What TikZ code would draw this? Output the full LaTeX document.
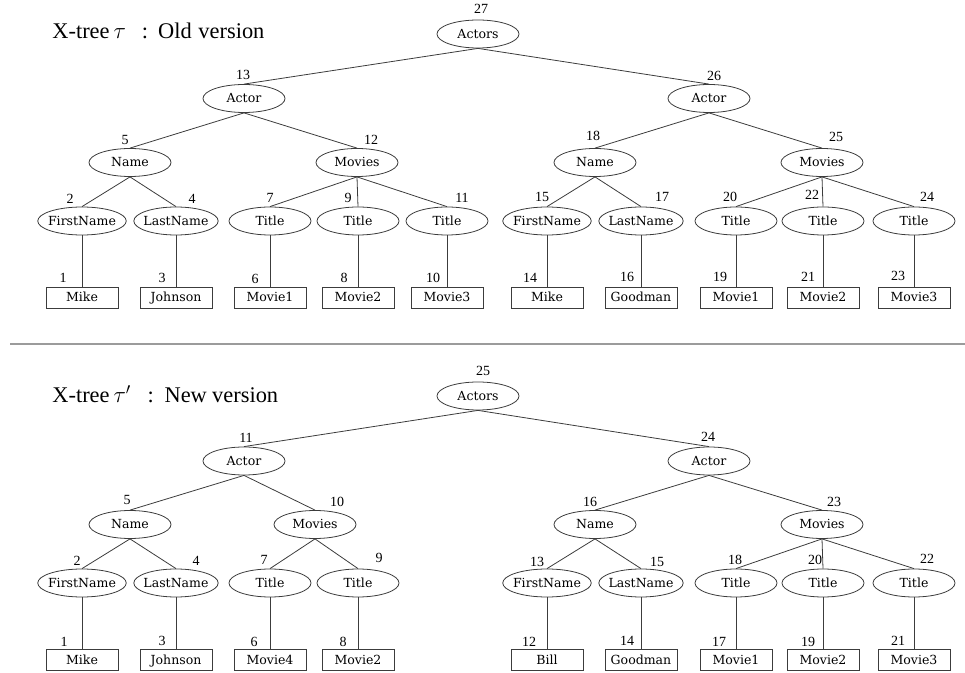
\documentclass[tikz,border=0pt]{standalone}
\usepackage{fontspec}
\setmainfont{Liberation Serif}
\newfontfamily\nodefont{DejaVu Serif}
\usetikzlibrary{shapes.geometric}

\tikzset{every picture/.style={line width=0.6pt}}
\tikzset{
  elli/.style={draw={rgb, 255:red, 60; green, 60; blue, 60}, ellipse, minimum width=61.5pt, minimum height=21pt, inner xsep=-2pt, inner ysep=0pt, text height=6.5pt, text depth=0pt, font=\nodefont\fontsize{9.4}{11}\selectfont},
  leaf/.style={draw={rgb, 255:red, 60; green, 60; blue, 60}, rectangle, minimum width=54pt, minimum height=15.75pt, inner sep=0pt, text height=6.5pt, text depth=0pt, font=\nodefont\fontsize{9.4}{11}\selectfont},
  num/.style={inner sep=0pt, font=\fontsize{10.5}{12}\selectfont},
  conn/.style={draw={rgb, 255:red, 60; green, 60; blue, 60}},
  heading/.style={anchor=west, inner sep=0pt, font=\fontsize{16.8}{20}\selectfont}
}

\begin{document}
\begin{tikzpicture}[x=0.75pt,y=0.75pt,yscale=-1,xscale=1]
	\useasboundingbox (0,0) rectangle (965,673);

	% Heading
	\node [heading] (hold) at (52,31) {X-tree\hspace{3pt}$\tau$\hspace{12pt}:\hspace{7.5pt}Old\hspace{5pt}version};
	\node [heading] (hnew) at (52,394) {X-tree\hspace{3pt}$\tau^{\prime}$\hspace{12.5pt}:\hspace{8pt}New\hspace{4pt}version};

	% Separator
	\draw [color={rgb, 255:red, 155; green, 155; blue, 155 }, line width=1.5pt] (10,344) -- (965,344) ;

	%%%%%%%% Old version
	%Shape: Ellipse
	\node [elli] (o27) at (478,34) {Actors};
	\node [elli] (o13) at (244,98.5) {Actor};
	\node [elli] (o26) at (709,98.5) {Actor};
	\node [elli] (o5) at (130,162.5) {Name};
	\node [elli] (o12) at (357,162.5) {Movies};
	\node [elli] (o18) at (595,162.5) {Name};
	\node [elli] (o25) at (822,162.5) {Movies};
	\node [elli] (o2) at (82,221) {FirstName};
	\node [elli] (o4) at (176,221) {LastName};
	\node [elli] (o7) at (270,221) {Title};
	\node [elli] (o9) at (358,221) {Title};
	\node [elli] (o11) at (447,221) {Title};
	\node [elli] (o15) at (547,221) {FirstName};
	\node [elli] (o17) at (641,221) {LastName};
	\node [elli] (o20) at (736,221) {Title};
	\node [elli] (o22) at (823,221) {Title};
	\node [elli] (o24) at (914,221) {Title};
	%Shape: Rectangle
	\node [leaf] (o1) at (82,297.5) {Mike};
	\node [leaf] (o3) at (176,297.5) {Johnson};
	\node [leaf] (o6) at (270,297.5) {Movie1};
	\node [leaf] (o8) at (358,297.5) {Movie2};
	\node [leaf] (o10) at (447,297.5) {Movie3};
	\node [leaf] (o14) at (547,297.5) {Mike};
	\node [leaf] (o16) at (641,297.5) {Goodman};
	\node [leaf] (o19) at (736,297.5) {Movie1};
	\node [leaf] (o21) at (823,297.5) {Movie2};
	\node [leaf] (o23) at (914,297.5) {Movie3};

	%Straight Lines
	\draw [conn] (o27.south) -- (o13.north) ;
	\draw [conn] (o27.south) -- (o26.north) ;
	\draw [conn] (o13.south) -- (o5.north) ;
	\draw [conn] (o13.south) -- (o12.north) ;
	\draw [conn] (o26.south) -- (o18.north) ;
	\draw [conn] (o26.south) -- (o25.north) ;
	\draw [conn] (o5.south) -- (o2.north) ;
	\draw [conn] (o5.south) -- (o4.north) ;
	\draw [conn] (o12.south) -- (o7.north) ;
	\draw [conn] (o12.south) -- (o9.north) ;
	\draw [conn] (o12.south) -- (o11.north) ;
	\draw [conn] (o18.south) -- (o15.north) ;
	\draw [conn] (o18.south) -- (o17.north) ;
	\draw [conn] (o25.south) -- (o20.north) ;
	\draw [conn] (o25.south) -- (o22.north) ;
	\draw [conn] (o25.south) -- (o24.north) ;
	\draw [conn] (o2.south) -- (o1.north) ;
	\draw [conn] (o4.south) -- (o3.north) ;
	\draw [conn] (o7.south) -- (o6.north) ;
	\draw [conn] (o9.south) -- (o8.north) ;
	\draw [conn] (o11.south) -- (o10.north) ;
	\draw [conn] (o15.south) -- (o14.north) ;
	\draw [conn] (o17.south) -- (o16.north) ;
	\draw [conn] (o20.south) -- (o19.north) ;
	\draw [conn] (o22.south) -- (o21.north) ;
	\draw [conn] (o24.south) -- (o23.north) ;

	% Text Node
	\node [num] (lo27) at (481,9) {27};
	\node [num] (lo13) at (243,75) {13};
	\node [num] (lo26) at (714,76) {26};
	\node [num] (lo5) at (125,140) {5};
	\node [num] (lo12) at (371,140) {12};
	\node [num] (lo18) at (593,136) {18};
	\node [num] (lo25) at (836,137) {25};
	\node [num] (lo2) at (70,199) {2};
	\node [num] (lo4) at (192,199) {4};
	\node [num] (lo7) at (270,198) {7};
	\node [num] (lo9) at (348,198) {9};
	\node [num] (lo11) at (462,198) {11};
	\node [num] (lo15) at (542,197) {15};
	\node [num] (lo17) at (662,197) {17};
	\node [num] (lo20) at (730,197) {20};
	\node [num] (lo22) at (812,195) {22};
	\node [num] (lo24) at (927,197) {24};
	\node [num] (lo1) at (63,278) {1};
	\node [num] (lo3) at (162,278) {3};
	\node [num] (lo6) at (255,279) {6};
	\node [num] (lo8) at (344,278) {8};
	\node [num] (lo10) at (433,278) {10};
	\node [num] (lo14) at (530,278) {14};
	\node [num] (lo16) at (627,277) {16};
	\node [num] (lo19) at (720,277) {19};
	\node [num] (lo21) at (808,277) {21};
	\node [num] (lo23) at (898,276) {23};

	%%%%%%%% New version
	%Shape: Ellipse
	\node [elli] (n25) at (478,396) {Actors};
	\node [elli] (n11) at (244,461) {Actor};
	\node [elli] (n24) at (709,461) {Actor};
	\node [elli] (n5) at (130,524.5) {Name};
	\node [elli] (n10) at (315,524.5) {Movies};
	\node [elli] (n16) at (595,524.5) {Name};
	\node [elli] (n23) at (822,524.5) {Movies};
	\node [elli] (n2) at (82,583) {FirstName};
	\node [elli] (n4) at (176,583) {LastName};
	\node [elli] (n7) at (270,583) {Title};
	\node [elli] (n9) at (358,583) {Title};
	\node [elli] (n13) at (547,583) {FirstName};
	\node [elli] (n15) at (641,583) {LastName};
	\node [elli] (n18) at (736,583) {Title};
	\node [elli] (n20) at (823,583) {Title};
	\node [elli] (n22) at (914,583) {Title};
	%Shape: Rectangle
	\node [leaf] (n1) at (82,660) {Mike};
	\node [leaf] (n3) at (176,660) {Johnson};
	\node [leaf] (n6) at (270,660) {Movie4};
	\node [leaf] (n8) at (358,660) {Movie2};
	\node [leaf] (n12) at (547,660) {Bill};
	\node [leaf] (n14) at (641,660) {Goodman};
	\node [leaf] (n17) at (736,660) {Movie1};
	\node [leaf] (n19) at (823,660) {Movie2};
	\node [leaf] (n21) at (914,660) {Movie3};

	%Straight Lines
	\draw [conn] (n25.south) -- (n11.north) ;
	\draw [conn] (n25.south) -- (n24.north) ;
	\draw [conn] (n11.south) -- (n5.north) ;
	\draw [conn] (n11.south) -- (n10.north) ;
	\draw [conn] (n24.south) -- (n16.north) ;
	\draw [conn] (n24.south) -- (n23.north) ;
	\draw [conn] (n5.south) -- (n2.north) ;
	\draw [conn] (n5.south) -- (n4.north) ;
	\draw [conn] (n10.south) -- (n7.north) ;
	\draw [conn] (n10.south) -- (n9.north) ;
	\draw [conn] (n16.south) -- (n13.north) ;
	\draw [conn] (n16.south) -- (n15.north) ;
	\draw [conn] (n23.south) -- (n18.north) ;
	\draw [conn] (n23.south) -- (n20.north) ;
	\draw [conn] (n23.south) -- (n22.north) ;
	\draw [conn] (n2.south) -- (n1.north) ;
	\draw [conn] (n4.south) -- (n3.north) ;
	\draw [conn] (n7.south) -- (n6.north) ;
	\draw [conn] (n9.south) -- (n8.north) ;
	\draw [conn] (n13.south) -- (n12.north) ;
	\draw [conn] (n15.south) -- (n14.north) ;
	\draw [conn] (n18.south) -- (n17.north) ;
	\draw [conn] (n20.south) -- (n19.north) ;
	\draw [conn] (n22.south) -- (n21.north) ;

	% Text Node
	\node [num] (ln25) at (483,371) {25};
	\node [num] (ln11) at (246,438) {11};
	\node [num] (ln24) at (708,437) {24};
	\node [num] (ln5) at (127,500) {5};
	\node [num] (ln10) at (337,502) {10};
	\node [num] (ln16) at (590,502) {16};
	\node [num] (ln23) at (834,502) {23};
	\node [num] (ln2) at (77,561) {2};
	\node [num] (ln4) at (196,561) {4};
	\node [num] (ln7) at (264,560) {7};
	\node [num] (ln9) at (379,558) {9};
	\node [num] (ln13) at (537,562) {13};
	\node [num] (ln15) at (657,562) {15};
	\node [num] (ln18) at (735,560) {18};
	\node [num] (ln20) at (815,560) {20};
	\node [num] (ln22) at (927,559) {22};
	\node [num] (ln1) at (64,642) {1};
	\node [num] (ln3) at (162,641) {3};
	\node [num] (ln6) at (254,642) {6};
	\node [num] (ln8) at (343,642) {8};
	\node [num] (ln12) at (529,642) {12};
	\node [num] (ln14) at (627,641) {14};
	\node [num] (ln17) at (719,642) {17};
	\node [num] (ln19) at (808,642) {19};
	\node [num] (ln21) at (898,641) {21};

\end{tikzpicture}
\end{document}
